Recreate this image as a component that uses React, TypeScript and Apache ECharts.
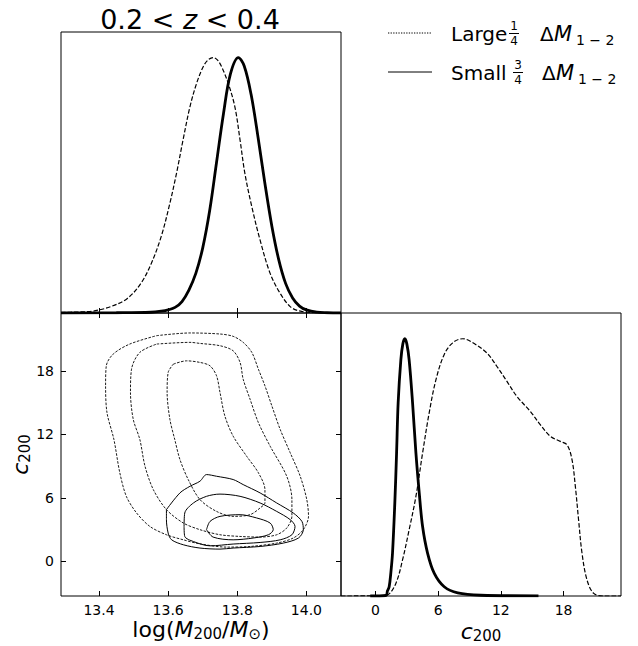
import React, { useEffect, useRef } from "react";
import * as echarts from "echarts";

const F = "DejaVu Sans";

// axis ticks and ranges
const logMTicks = [13.4, 13.6, 13.8, 14.0];
const c200Ticks = [0, 6, 12, 18];
const logMExtent = [13.29, 14.1];
const c200Extent = [-3.3, 23.5];
const pdfExtent = [0, 1.1];

// 1D marginals (normalised to peak = 1)
const largeLogMPdf = [
  [13.29, 0.002], [13.318, 0.003], [13.36, 0.005], [13.386, 0.008], [13.434, 0.025],
  [13.482, 0.057], [13.521, 0.116], [13.55, 0.19], [13.58, 0.3], [13.605, 0.43],
  [13.624, 0.546], [13.643, 0.677], [13.663, 0.807], [13.682, 0.898], [13.701, 0.963],
  [13.715, 0.99], [13.73, 1.0], [13.743, 0.99], [13.755, 0.963], [13.774, 0.898],
  [13.793, 0.807], [13.808, 0.677], [13.822, 0.546], [13.842, 0.416], [13.866, 0.285],
  [13.895, 0.155], [13.924, 0.077], [13.953, 0.025], [13.98, 0.008], [14.03, 0.001], [14.1, 0],
];
const smallLogMPdf = [
  [13.29, 0], [13.45, 0.001], [13.55, 0.003], [13.58, 0.007], [13.6, 0.012], [13.62, 0.022],
  [13.64, 0.045], [13.66, 0.09], [13.68, 0.155], [13.7, 0.255], [13.72, 0.4], [13.74, 0.59],
  [13.76, 0.78], [13.78, 0.935], [13.803, 1.0], [13.82, 0.967], [13.84, 0.855], [13.86, 0.688],
  [13.88, 0.506], [13.9, 0.34], [13.92, 0.208], [13.94, 0.115], [13.96, 0.059], [13.98, 0.027],
  [14.0, 0.012], [14.03, 0.003], [14.06, 0.001], [14.1, 0],
];
const largeC200Pdf = [
  [-3.3, 0], [0.5, 0.001], [1.15, 0.004], [1.95, 0.049], [2.59, 0.14], [3.22, 0.257],
  [3.87, 0.387], [4.51, 0.556], [5.14, 0.712], [5.79, 0.841], [6.58, 0.939], [7.39, 0.984],
  [8.35, 1.0], [9.21, 0.987], [10.65, 0.945], [11.61, 0.893], [12.57, 0.835], [13.53, 0.776],
  [14.81, 0.718], [15.77, 0.666], [16.73, 0.621], [17.69, 0.601], [18.33, 0.588], [18.81, 0.53],
  [19.13, 0.426], [19.44, 0.296], [19.77, 0.166], [20.25, 0.062], [20.89, 0.01], [21.84, 0], [23.5, 0],
];
const smallC200Pdf = [
  [-0.5, 0], [0.99, 0.002], [1.15, 0.02], [1.31, 0.036], [1.47, 0.09], [1.63, 0.166],
  [1.85, 0.361], [2.02, 0.556], [2.17, 0.751], [2.43, 0.919], [2.62, 0.98], [2.81, 1.0],
  [3.0, 0.98], [3.22, 0.919], [3.55, 0.751], [3.87, 0.556], [4.19, 0.4], [4.51, 0.27],
  [4.99, 0.166], [5.63, 0.088], [6.58, 0.036], [7.87, 0.012], [10.1, 0.003], [15.6, 0.0005],
];

// 2D contours (log M, c200)
const largeContourOuter = [
  [13.566, 21.35], [13.663, 21.61], [13.75, 21.51], [13.788, 21.29], [13.817, 20.72], [13.842, 19.77],
  [13.861, 18.18], [13.88, 16.6], [13.9, 14.7], [13.924, 12.48], [13.953, 10.27], [13.982, 8.04],
  [14.001, 5.83], [14.006, 4.24], [13.991, 2.98], [13.962, 2.19], [13.914, 1.71], [13.837, 1.39],
  [13.769, 1.33], [13.692, 1.64], [13.644, 2.02], [13.595, 2.5], [13.547, 3.29], [13.508, 4.59],
  [13.479, 6.14], [13.46, 8.39], [13.443, 11.53], [13.423, 14.07], [13.419, 16.6], [13.421, 18.5],
  [13.441, 19.61], [13.489, 20.56], [13.566, 21.35],
];
const largeContourMiddle = [
  [13.567, 20.56], [13.663, 20.72], [13.692, 20.62], [13.75, 20.4], [13.788, 19.92], [13.808, 18.82],
  [13.817, 17.23], [13.837, 15.33], [13.861, 13.12], [13.895, 10.89], [13.943, 8.04], [13.958, 5.83],
  [13.958, 4.24], [13.943, 3.14], [13.914, 2.5], [13.866, 2.28], [13.808, 2.34], [13.75, 2.5],
  [13.692, 2.98], [13.644, 3.61], [13.595, 4.88], [13.557, 6.78], [13.533, 8.99], [13.518, 11.53],
  [13.499, 13.43], [13.491, 15.97], [13.494, 18.18], [13.518, 19.77], [13.567, 20.56],
];
const largeContourInner = [
  [13.615, 18.66], [13.653, 18.97], [13.692, 18.82], [13.721, 18.5], [13.74, 17.55], [13.75, 15.97],
  [13.764, 13.75], [13.788, 11.84], [13.827, 9.94], [13.861, 8.37], [13.88, 6.78], [13.88, 5.54],
  [13.866, 5.04], [13.837, 4.4], [13.788, 4.24], [13.74, 4.71], [13.692, 5.83], [13.658, 7.73],
  [13.634, 9.63], [13.619, 11.53], [13.605, 13.43], [13.597, 15.97], [13.6, 17.87], [13.615, 18.66],
];
const smallContourOuter = [
  [13.595, 4.88], [13.634, 6.46], [13.663, 7.09], [13.692, 7.57], [13.711, 8.2], [13.74, 8.04],
  [13.788, 7.73], [13.817, 7.25], [13.866, 6.46], [13.914, 5.51], [13.962, 4.56], [13.987, 3.76],
  [13.991, 2.98], [13.977, 2.19], [13.933, 1.71], [13.866, 1.39], [13.788, 1.24], [13.75, 1.14],
  [13.692, 1.24], [13.644, 1.55], [13.61, 2.02], [13.6, 2.66], [13.595, 3.93], [13.595, 4.88],
];
const smallContourMiddle = [
  [13.646, 3.29], [13.648, 4.56], [13.673, 5.51], [13.711, 6.14], [13.75, 6.35], [13.808, 6.14],
  [13.866, 5.51], [13.914, 4.71], [13.953, 3.93], [13.967, 3.29], [13.958, 2.5], [13.924, 2.02],
  [13.866, 1.77], [13.788, 1.62], [13.721, 1.45], [13.673, 1.86], [13.648, 2.34], [13.646, 3.29],
];
const smallContourInner = [
  [13.711, 2.98], [13.721, 3.76], [13.75, 4.24], [13.808, 4.4], [13.856, 4.09], [13.895, 3.61],
  [13.904, 2.98], [13.89, 2.5], [13.846, 2.19], [13.788, 2.02], [13.73, 2.28], [13.711, 2.98],
];

const legendLabels = ["Large", "Small"];
const legendNumerators = ["1", "3"];
const legendDenominator = "4";

const mathRich = (size: number, lh = 24) => ({
  n: { fontFamily: F, fontSize: size, fontWeight: "normal", color: "#000", lineHeight: lh, verticalAlign: "middle" },
  i: { fontFamily: F, fontSize: size, fontWeight: "normal", fontStyle: "italic", color: "#000", lineHeight: lh, verticalAlign: "middle" },
  s: { fontFamily: F, fontSize: Math.round(size * 0.7), fontWeight: "normal", color: "#000", lineHeight: 12, verticalAlign: "bottom" },
});

const fmtLogM = (v: number) => v.toFixed(1);
const fmtC = (v: number) => String(Math.round(v));

function axis(opts: any) {
  const { gridIndex, extent, ticks, position, labels, formatter, name, nameGap, nameRotate, showTicks = true } = opts;
  return {
    type: "value",
    gridIndex,
    position,
    min: extent[0],
    max: extent[1],
    splitLine: { show: false },
    axisLine: { show: false, onZero: false },
    axisTick: {
      show: showTicks,
      inside: true,
      length: 5,
      customValues: ticks,
      lineStyle: { color: "#000", width: 1 },
    },
    axisLabel: {
      show: labels,
      customValues: ticks,
      formatter,
      color: "#000",
      fontFamily: F,
      fontSize: 14,
      margin: 7,
      showMinLabel: true,
      showMaxLabel: true,
    },
    name,
    nameLocation: "middle",
    nameGap,
    nameRotate,
    nameTextStyle: { rich: mathRich(22) },
  };
}

function lineSeries(data: number[][], xi: number, yi: number, width: number, dash: any, smooth = 0.35) {
  return {
    type: "line",
    xAxisIndex: xi,
    yAxisIndex: yi,
    data,
    showSymbol: false,
    symbol: "none",
    smooth,
    silent: true,
    emphasis: { disabled: true },
    lineStyle: { color: "#000", width, type: dash },
  };
}

function legendGraphic() {
  const els: any[] = [];
  const rows = [
    { y: 33, dash: [1.3, 1.3], frac: 514, dx: 0 },
    { y: 72, dash: null, frac: 518, dx: 2 },
  ];
  rows.forEach((r, k) => {
    els.push({
      type: "line",
      shape: { x1: 388, y1: r.y, x2: 432, y2: r.y },
      style: { stroke: "#000", lineWidth: 1, lineDash: r.dash || undefined },
    });
    els.push({
      type: "text",
      x: 451,
      y: r.y + 1,
      style: { text: legendLabels[k], fontFamily: F, fontSize: 20, fill: "#000", verticalAlign: "middle" },
    });
    els.push({
      type: "text",
      x: r.frac,
      y: r.y - 7,
      style: { text: legendNumerators[k], fontFamily: F, fontSize: 12, fill: "#000", align: "center", verticalAlign: "middle" },
    });
    els.push({
      type: "line",
      shape: { x1: r.frac - 5, y1: r.y + 0.5, x2: r.frac + 5, y2: r.y + 0.5 },
      style: { stroke: "#000", lineWidth: 1 },
    });
    els.push({
      type: "text",
      x: r.frac,
      y: r.y + 8,
      style: { text: legendDenominator, fontFamily: F, fontSize: 12, fill: "#000", align: "center", verticalAlign: "middle" },
    });
    els.push({
      type: "text",
      x: 540 + r.dx,
      y: r.y + 1,
      style: { text: "Δ", fontFamily: F, fontSize: 20, fill: "#000", verticalAlign: "middle" },
    });
    els.push({
      type: "text",
      x: 554 + r.dx,
      y: r.y + 1,
      style: { text: "M", fontFamily: F, fontStyle: "italic", fontSize: 21, fill: "#000", verticalAlign: "middle" },
    });
    els.push({
      type: "text",
      x: 576 + r.dx,
      y: r.y + 7,
      style: { text: "1 − 2", fontFamily: F, fontSize: 14, fill: "#000", verticalAlign: "middle" },
    });
  });
  return els;
}

export default function App() {
  const ref = useRef<HTMLDivElement>(null);
  useEffect(() => {
    if (!ref.current) return;
    const chart = echarts.init(ref.current, null, { renderer: "svg" });
    const gridBase = { show: true, borderColor: "#000", borderWidth: 1, containLabel: false, outerBoundsMode: "none" };
    const option: any = {
      animation: false,
      backgroundColor: "#fff",
      title: {
        text: "{n|0.2 < }{i|z}{n| < 0.4}",
        left: 185,
        top: 0,
        textAlign: "center",
        textStyle: { fontWeight: "normal", rich: mathRich(27, 28) },
      },
      grid: [
        { ...gridBase, left: 61, top: 32, width: 280, height: 281 },
        { ...gridBase, left: 61, top: 313, width: 280, height: 283 },
        { ...gridBase, left: 341, top: 313, width: 280, height: 283 },
      ],
      xAxis: [
        axis({ gridIndex: 0, extent: logMExtent, ticks: logMTicks, position: "bottom", labels: false }),
        axis({
          gridIndex: 1, extent: logMExtent, ticks: logMTicks, position: "bottom", labels: true, formatter: fmtLogM,
          name: "{n|log(}{i|M}{s|200}{n|/}{i|M}{s|⊙}{n|)}", nameGap: 21,
        }),
        axis({ gridIndex: 1, extent: logMExtent, ticks: logMTicks, position: "top", labels: false }),
        axis({
          gridIndex: 2, extent: c200Extent, ticks: c200Ticks, position: "bottom", labels: true, formatter: fmtC,
          name: "{i|c}{s|200}", nameGap: 23,
        }),
      ],
      yAxis: [
        axis({ gridIndex: 0, extent: pdfExtent, ticks: [], position: "left", labels: false, showTicks: false }),
        axis({
          gridIndex: 1, extent: c200Extent, ticks: c200Ticks, position: "left", labels: true, formatter: fmtC,
          name: "{i|c}{s|200}", nameGap: 26, nameRotate: 90,
        }),
        axis({ gridIndex: 1, extent: c200Extent, ticks: c200Ticks, position: "right", labels: false }),
        axis({ gridIndex: 2, extent: pdfExtent, ticks: [], position: "left", labels: false, showTicks: false }),
      ],
      series: [
        lineSeries(largeLogMPdf, 0, 0, 1.2, [4.5, 2]),
        lineSeries(smallLogMPdf, 0, 0, 2.8, "solid"),
        lineSeries(largeContourOuter, 1, 1, 0.9, [2.6, 1.4], 0.3),
        lineSeries(largeContourMiddle, 1, 1, 0.9, [2.6, 1.4], 0.3),
        lineSeries(largeContourInner, 1, 1, 0.9, [2.6, 1.4], 0.3),
        lineSeries(smallContourOuter, 1, 1, 1, "solid", 0.3),
        lineSeries(smallContourMiddle, 1, 1, 1, "solid", 0.3),
        lineSeries(smallContourInner, 1, 1, 1, "solid", 0.3),
        lineSeries(largeC200Pdf, 3, 3, 1.2, [4.5, 2]),
        lineSeries(smallC200Pdf, 3, 3, 2.8, "solid"),
      ],
      graphic: legendGraphic(),
    };
    chart.setOption(option);
    return () => chart.dispose();
  }, []);
  return <div ref={ref} style={{ position: "absolute", left: 0, top: 0, width: 638, height: 646 }} />;
}
